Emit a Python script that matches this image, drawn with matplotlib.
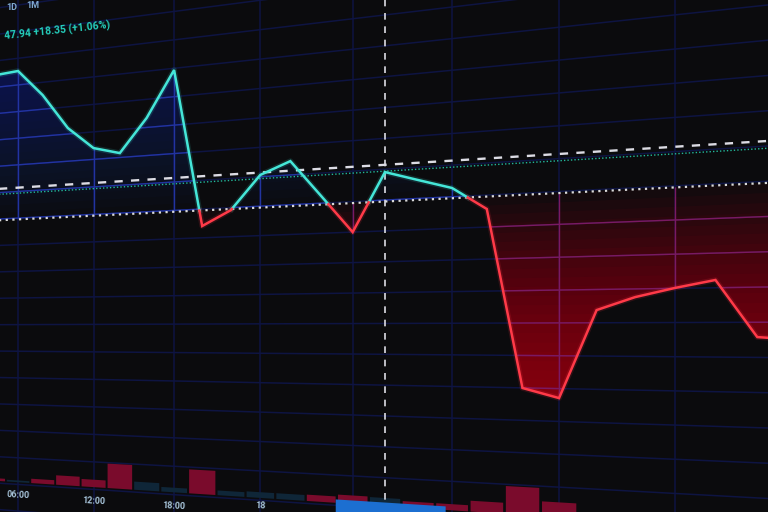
import numpy as np
import matplotlib
matplotlib.use('Agg')
import matplotlib.pyplot as plt
from matplotlib.transforms import Transform
from matplotlib.patches import Polygon
from matplotlib.collections import LineCollection

# Price every 2 hours, hours counted from 06:00 of the first day
hours = np.arange(-2, 50, 2)
prices = [1814.5, 1815.5, 1800.1, 1780.0, 1767.5, 1763.6, 1781.8, 1806.5,
          1721.2, 1729.0, 1746.7, 1752.9, 1734.0, 1714.9, 1744.3, 1739.4,
          1734.6, 1723.6, 1637.7, 1633.3, 1674.5, 1680.3, 1684.2, 1687.5,
          1662.1, 1660.9]
volume = [3, 2, 5, 10.7, 8.3, 27.2, 9, 5, 25.8, 5, 6, 6, 6.5, 8.5,
          8, 6, 6, 10.5, 26.6, 14, 5, 4, 6, 5, 4, 4]
vol_side = ['dn', 'up', 'dn', 'dn', 'dn', 'dn', 'up', 'up', 'dn', 'up', 'up', 'up', 'dn', 'dn',
            'up', 'dn', 'dn', 'dn', 'dn', 'dn', 'up', 'up', 'up', 'up', 'dn', 'dn']

prev_close = 1729.59
crosshair_price = 1747.94
avg_price = 1744.75
crosshair_hour = 26
tick_hours = [0, 6, 12, 18]
tick_labels = ['06:00', '12:00', '18:00', '18']
header = '47.94 +18.35 (+1.06%)'

plt.rcParams['font.family'] = ['Roboto', 'DejaVu Sans']

# the screen is photographed at an angle: lines run to a vanishing point on the left
K = 0.00609
U0 = crosshair_hour
P_HOR = 1664.34


class Tilt(Transform):
    input_dims = 2
    output_dims = 2
    is_separable = False
    has_inverse = True

    def transform_non_affine(self, pts):
        pts = np.asarray(pts, dtype=float)
        u, p = pts[:, 0], pts[:, 1]
        r = 1.0 / (1.0 - K * (u - U0))
        return np.column_stack([U0 - 1.0 / K + r / K, P_HOR + (p - P_HOR) * r])

    def inverted(self):
        return UnTilt()


class UnTilt(Transform):
    input_dims = 2
    output_dims = 2
    is_separable = False
    has_inverse = True

    def transform_non_affine(self, pts):
        pts = np.asarray(pts, dtype=float)
        u, p = pts[:, 0], pts[:, 1]
        r = K * (u - (U0 - 1.0 / K))
        return np.column_stack([U0 + (1 - 1 / r) / K, P_HOR + (p - P_HOR) / r])

    def inverted(self):
        return Tilt()


fig = plt.figure(figsize=(7.68, 5.12), dpi=100)
fig.patch.set_facecolor('#0b0b0d')
ax = fig.add_axes([0, 0, 1, 1])
ax.set_facecolor('#0b0b0d')
ax.axis('off')
ax.set_xlim(2.45, 49.43)
ax.set_ylim(1574.34, 1830.34)
T = Tilt() + ax.transData

# insert the points where the line crosses the previous close
h = np.array(hours, float)
p = np.array(prices, float)
hs, ps = [h[0]], [p[0]]
for i in range(1, len(h)):
    if (p[i - 1] - prev_close) * (p[i] - prev_close) < 0:
        f = (prev_close - p[i - 1]) / (p[i] - p[i - 1])
        hs.append(h[i - 1] + f * (h[i] - h[i - 1]))
        ps.append(prev_close)
    hs.append(h[i])
    ps.append(p[i])
hs = np.array(hs)
ps = np.array(ps)

# grid
gu = np.arange(-6, 54, 6)
gp = 1807.44 - 15.425 * np.arange(-4, 20)
segs = [[(u, 1500), (u, 1900)] for u in gu] + [[(-12, q), (56, q)] for q in gp]
ax.add_collection(LineCollection(segs, colors='#0e1442', linewidths=1.1, transform=T, zorder=1))

# gradient fills
for L in np.linspace(prev_close, max(prices), 20, endpoint=False):
    ax.fill_between(hs, L, ps, where=ps > L, interpolate=True, color='#1a3cc0',
                    alpha=0.022, lw=0, transform=T, zorder=2)
for L in np.linspace(prev_close, min(prices), 22, endpoint=False):
    ax.fill_between(hs, ps, L, where=ps < L, interpolate=True, color='#d0001c',
                    alpha=0.047, lw=0, transform=T, zorder=2)

top_poly = Polygon(np.column_stack([np.r_[hs, hs[::-1]],
                                    np.r_[np.maximum(ps, prev_close), np.full(len(hs), prev_close)]]),
                   transform=T)
bot_poly = Polygon(np.column_stack([np.r_[hs, hs[::-1]],
                                    np.r_[np.minimum(ps, prev_close), np.full(len(hs), prev_close)]]),
                   transform=T)
for poly, col in [(top_poly, '#2234a0'), (bot_poly, '#7a1a62')]:
    lc = LineCollection(segs, colors=col, linewidths=1.0, transform=T, zorder=2.5)
    ax.add_collection(lc)
    lc.set_clip_path(poly)

# volume at the bottom of the pane
vol_base = 1577.34
vol_k = 0.5
for hh, v, s in zip(hours, volume, vol_side):
    ax.bar(hh, v * vol_k, bottom=vol_base, width=1.85,
           color='#7a0b2c' if s == 'dn' else '#0f2638', lw=0, transform=T, zorder=2)

# reference lines
span = np.array([-12.0, 56.0])
ax.plot(span, [prev_close] * 2, color='#dadada', lw=1.6, ls=(0, (1, 2)), transform=T, zorder=3)
ax.plot(span, [avg_price] * 2, color='#22b89a', lw=1.0, ls=(0, (1, 1.5)), transform=T, zorder=3)
ax.plot(span, [crosshair_price] * 2, color='#dcdce4', lw=1.7, ls=(0, (3.5, 3.5)), transform=T, zorder=3)
ax.plot([crosshair_hour] * 2, [1560, 1900], color='#dcdce4', lw=1.2, ls=(0, (4, 4)), transform=T, zorder=3)

# price line: cyan above the previous close, red below
eps = 1e-9
up = np.ma.masked_where(ps < prev_close - eps, ps)
dn = np.ma.masked_where(ps > prev_close + eps, ps)
ax.plot(hs, up, color='#3fe3d4', lw=4, alpha=0.15, transform=T, zorder=4)
ax.plot(hs, dn, color='#ff3344', lw=4, alpha=0.15, transform=T, zorder=4)
ax.plot(hs, up, color='#45e6d8', lw=1.8, transform=T, zorder=4, solid_joinstyle='miter')
ax.plot(hs, dn, color='#ff3a48', lw=1.8, transform=T, zorder=4, solid_joinstyle='miter')

# crosshair time label box
ax.fill_between([22.9, 29.6], 1540, 1579.3, color='#1c6fd1', lw=0, transform=T, zorder=5)

# text
label_p = [1569.6, 1569.6, 1569.6, 1573.0]
for hh, lab, lp in zip(tick_hours, tick_labels, label_p):
    ax.text(hh, lp, lab, color='#a9c6dc', fontsize=6.5, fontweight='bold',
            ha='center', va='center', rotation=-3, transform=T, zorder=6)
ax.text(-1.1, 1836.5, header, color='#25d0bd', fontsize=7.5, fontweight='bold',
        ha='left', va='center', rotation=6, rotation_mode='anchor', transform=T, zorder=6)
ax.text(-0.5, 1852.5, '1D', color='#7fa8d0', fontsize=6.5, fontweight='bold',
        ha='center', va='center', transform=T, zorder=6)
ax.text(1.2, 1852.0, '1M', color='#7fa8d0', fontsize=6.5, fontweight='bold',
        ha='center', va='center', transform=T, zorder=6)

fig.savefig('out.png', dpi=100, facecolor=fig.get_facecolor())
